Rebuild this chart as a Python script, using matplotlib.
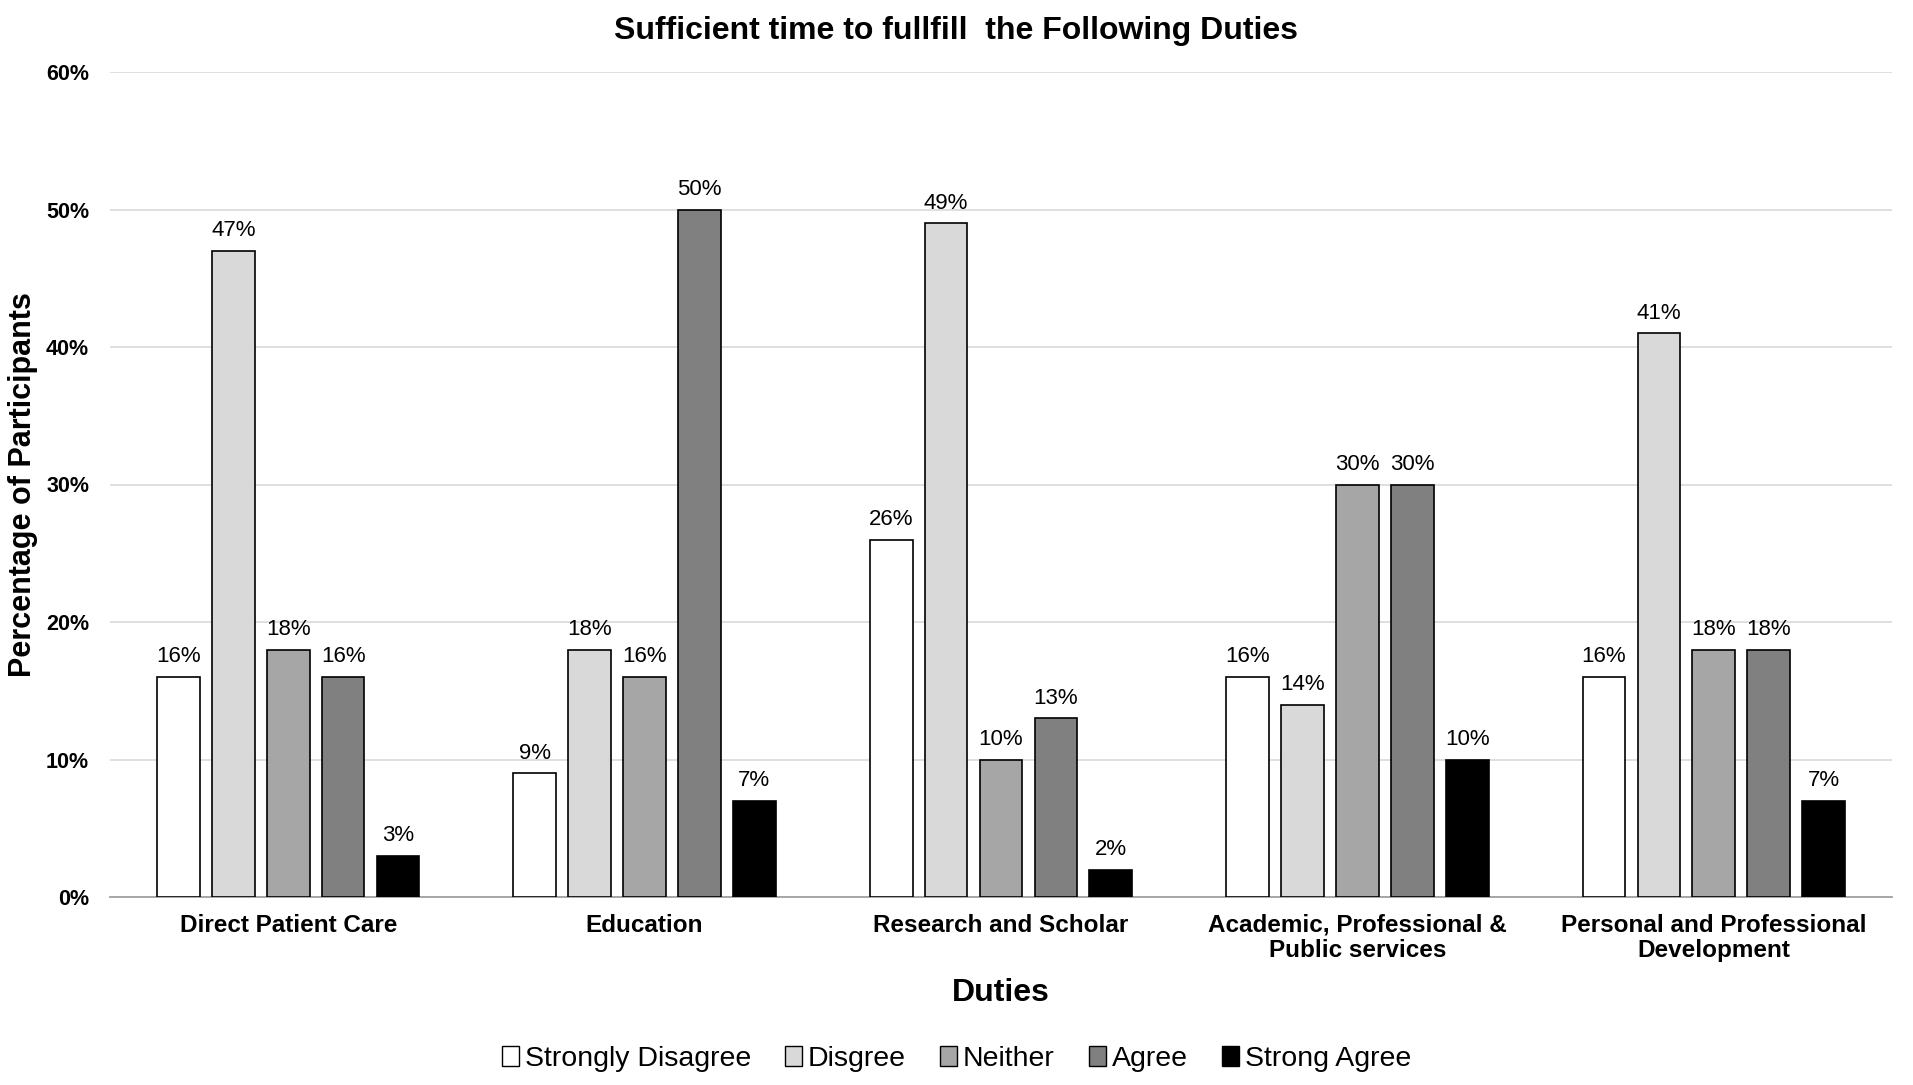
import numpy as np
import matplotlib.pyplot as plt
from matplotlib.patches import Patch

plt.rcParams['font.family'] = ['Liberation Sans', 'DejaVu Sans']

duties = ["Direct Patient Care", "Education", "Research and Scholar",
          "Academic, Professional &\nPublic services",
          "Personal and Professional\nDevelopment"]
responses = ["Strongly Disagree", "Disgree", "Neither", "Agree", "Strong Agree"]
strongly_disagree = [16, 9, 26, 16, 16]
disagree = [47, 18, 49, 14, 41]
neither = [18, 16, 10, 30, 18]
agree = [16, 50, 13, 30, 18]
strong_agree = [3, 7, 2, 10, 7]
colors = ["#ffffff", "#d9d9d9", "#a6a6a6", "#808080", "#000000"]


def main():
    series = [strongly_disagree, disagree, neither, agree, strong_agree]
    fig = plt.figure(figsize=(19.13, 10.85), dpi=100)
    ax = fig.add_axes([110 / 1913, 1 - 897 / 1085, 1782 / 1913, 825 / 1085])

    x = np.arange(len(duties))
    step = 0.154
    width = 0.12
    for i, (vals, col) in enumerate(zip(series, colors)):
        pos = x + (i - 2) * step
        bars = ax.bar(pos, vals, width, color=col, edgecolor="black",
                      linewidth=1.2, zorder=3)
        for b, v in zip(bars, vals):
            ax.text(b.get_x() + b.get_width() / 2, v + 0.7, f"{v}%",
                    ha="center", va="bottom", fontsize=16)

    ax.set_xlim(-0.5, len(duties) - 0.5)
    ax.set_ylim(0, 60)
    ax.set_yticks(range(0, 61, 10))
    ax.set_yticklabels([f"{t}%" for t in range(0, 61, 10)],
                       fontsize=15.5, fontweight="bold")
    ax.set_xticks(x)
    ax.set_xticklabels(duties, fontsize=17.5, fontweight="bold", linespacing=1.12)
    ax.tick_params(axis="y", length=0, pad=15)
    ax.tick_params(axis="x", length=0, pad=12)
    ax.grid(axis="y", color="#dcdcdc", linewidth=1.3, zorder=0)
    for s in ["top", "right", "left"]:
        ax.spines[s].set_visible(False)
    ax.spines["bottom"].set_color("#a0a0a0")
    ax.spines["bottom"].set_linewidth(1.3)

    ax.set_ylabel("Percentage of Participants", fontsize=22, fontweight="bold",
                  labelpad=6)
    ax.set_xlabel("Duties", fontsize=23, fontweight="bold", labelpad=12)
    fig.suptitle("Sufficient time to fullfill  the Following Duties", y=0.985,
                 fontsize=23, fontweight="bold")

    handles = [Patch(facecolor=c, edgecolor="black", linewidth=1.0) for c in colors]
    fig.legend(handles, responses, loc="center", bbox_to_anchor=(0.5, 1 - 1059 / 1085),
               ncol=5, frameon=False, fontsize=20.5, handlelength=0.6,
               handleheight=0.7, handletextpad=0.2, columnspacing=1.2)

    fig.savefig("out.png", dpi=100)


if __name__ == "__main__":
    main()
